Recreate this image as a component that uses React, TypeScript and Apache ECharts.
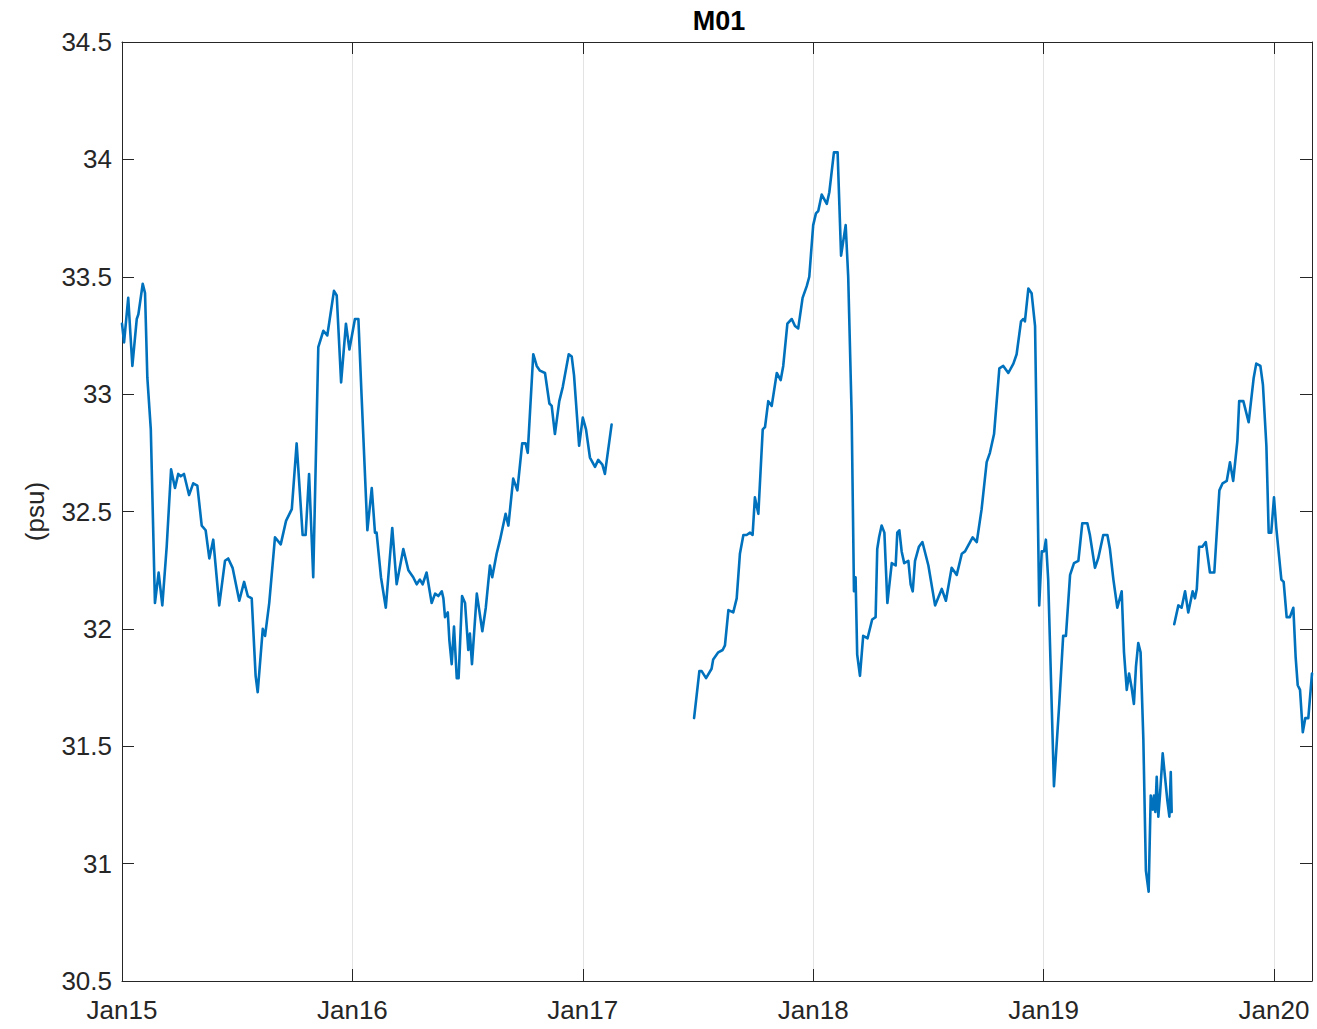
import React, { useEffect, useRef } from "react";
import * as echarts from "echarts";

// Salinity record at mooring M01, time in decimal years, salinity in psu.
// The record has two gaps, so it is kept as three segments.
const seg1Years = [
  2015.0, 2015.009, 2015.027, 2015.045, 2015.064, 2015.071, 2015.09, 2015.1, 2015.11, 2015.125,
  2015.143, 2015.159, 2015.175, 2015.194, 2015.213, 2015.23, 2015.244, 2015.255, 2015.269, 2015.291,
  2015.309, 2015.327, 2015.346, 2015.363, 2015.379, 2015.396, 2015.422, 2015.447, 2015.461, 2015.48,
  2015.509, 2015.53, 2015.546, 2015.563, 2015.58, 2015.589, 2015.611, 2015.621, 2015.639, 2015.664,
  2015.689, 2015.712, 2015.737, 2015.758, 2015.784, 2015.797, 2015.812, 2015.83, 2015.852, 2015.874,
  2015.891, 2015.92, 2015.932, 2015.951, 2015.972, 2015.987, 2016.011, 2016.026, 2016.04, 2016.065,
  2016.084, 2016.098, 2016.105, 2016.124, 2016.145, 2016.173, 2016.192, 2016.221, 2016.243, 2016.264,
  2016.279, 2016.293, 2016.305, 2016.322, 2016.344, 2016.359, 2016.373, 2016.388, 2016.395, 2016.402,
  2016.414, 2016.421, 2016.431, 2016.441, 2016.453, 2016.461, 2016.476, 2016.489, 2016.503, 2016.51,
  2016.519, 2016.54, 2016.564, 2016.579, 2016.597, 2016.607, 2016.626, 2016.641, 2016.665, 2016.677,
  2016.698, 2016.716, 2016.737, 2016.752, 2016.761, 2016.785, 2016.8, 2016.814, 2016.836, 2016.855,
  2016.865, 2016.879, 2016.898, 2016.913, 2016.939, 2016.952, 2016.962, 2016.984, 2017.0, 2017.014,
  2017.031, 2017.053, 2017.067, 2017.085, 2017.096, 2017.125,
];
const seg1Psu = [
  33.3, 33.22, 33.41, 33.12, 33.32, 33.34, 33.47, 33.43, 33.07, 32.85,
  32.11, 32.24, 32.1, 32.35, 32.68, 32.6, 32.66, 32.65, 32.66, 32.57,
  32.62, 32.61, 32.44, 32.42, 32.3, 32.38, 32.1, 32.29, 32.3, 32.26,
  32.12, 32.2, 32.14, 32.13, 31.8, 31.73, 32.0, 31.97, 32.11, 32.39,
  32.36, 32.46, 32.51, 32.79, 32.4, 32.4, 32.66, 32.22, 33.2, 33.27,
  33.25, 33.44, 33.42, 33.05, 33.3, 33.19, 33.32, 33.32, 32.99, 32.42,
  32.6, 32.41, 32.41, 32.22, 32.09, 32.43, 32.19, 32.34, 32.25, 32.22,
  32.19, 32.21, 32.19, 32.24, 32.11, 32.15, 32.14, 32.16, 32.13, 32.05,
  32.07, 31.95, 31.85, 32.01, 31.79, 31.79, 32.14, 32.11, 31.91, 31.98,
  31.85, 32.15, 31.99, 32.09, 32.27, 32.22, 32.32, 32.38, 32.49, 32.44,
  32.64, 32.59, 32.79, 32.79, 32.75, 33.17, 33.12, 33.1, 33.09, 32.96,
  32.95, 32.83, 32.97, 33.03, 33.17, 33.16, 33.08, 32.78, 32.9, 32.85,
  32.73, 32.69, 32.72, 32.7, 32.66, 32.87,
];

const seg2Years = [
  2017.483, 2017.506, 2017.516, 2017.535, 2017.559, 2017.566, 2017.588, 2017.607, 2017.617, 2017.632,
  2017.653, 2017.668, 2017.682, 2017.697, 2017.711, 2017.726, 2017.737, 2017.747, 2017.762, 2017.781,
  2017.791, 2017.805, 2017.82, 2017.842, 2017.859, 2017.87, 2017.888, 2017.907, 2017.921, 2017.935,
  2017.954, 2017.972, 2017.983, 2018.0, 2018.012, 2018.022, 2018.037, 2018.059, 2018.07, 2018.09,
  2018.106, 2018.121, 2018.141, 2018.152, 2018.167, 2018.177, 2018.184, 2018.191, 2018.203, 2018.217,
  2018.236, 2018.256, 2018.271, 2018.278, 2018.286, 2018.297, 2018.309, 2018.322, 2018.341, 2018.358,
  2018.365, 2018.374, 2018.384, 2018.395, 2018.413, 2018.423, 2018.432, 2018.442, 2018.459, 2018.474,
  2018.5, 2018.529, 2018.558, 2018.576, 2018.601, 2018.623, 2018.645, 2018.659, 2018.692, 2018.71,
  2018.731, 2018.753, 2018.767, 2018.785, 2018.808, 2018.825, 2018.847, 2018.869, 2018.883, 2018.902,
  2018.912, 2018.919, 2018.934, 2018.948, 2018.963, 2018.981, 2018.992, 2019.002, 2019.01, 2019.02,
  2019.045, 2019.068, 2019.085, 2019.097, 2019.115, 2019.132, 2019.151, 2019.168, 2019.19, 2019.201,
  2019.223, 2019.237, 2019.259, 2019.277, 2019.288, 2019.303, 2019.32, 2019.339, 2019.349, 2019.361,
  2019.371, 2019.382, 2019.392, 2019.401, 2019.411, 2019.421, 2019.433, 2019.444, 2019.456, 2019.465,
  2019.474, 2019.479, 2019.485, 2019.491, 2019.498, 2019.505, 2019.517, 2019.527, 2019.537, 2019.546,
  2019.552, 2019.556,
];
const seg2Psu = [
  31.62, 31.82, 31.82, 31.79, 31.83, 31.87, 31.9, 31.91, 31.93, 32.08,
  32.07, 32.13, 32.32, 32.4, 32.4, 32.41, 32.4, 32.56, 32.49, 32.85,
  32.86, 32.97, 32.95, 33.09, 33.06, 33.12, 33.3, 33.32, 33.29, 33.28,
  33.41, 33.46, 33.5, 33.72, 33.77, 33.78, 33.85, 33.81, 33.86, 34.03,
  34.03, 33.59, 33.72, 33.5, 32.91, 32.16, 32.22, 31.89, 31.8, 31.97,
  31.96, 32.04, 32.05, 32.34, 32.39, 32.44, 32.41, 32.11, 32.28, 32.27,
  32.41, 32.42, 32.33, 32.28, 32.29, 32.19, 32.16, 32.29, 32.35, 32.37,
  32.27, 32.1, 32.17, 32.12, 32.26, 32.23, 32.32, 32.33, 32.39, 32.37,
  32.51, 32.71, 32.75, 32.83, 33.11, 33.12, 33.09, 33.13, 33.17, 33.31,
  33.32, 33.31, 33.45, 33.43, 33.29, 32.1, 32.33, 32.33, 32.38, 32.21,
  31.33, 31.68, 31.97, 31.97, 32.23, 32.28, 32.29, 32.45, 32.45, 32.4,
  32.26, 32.3, 32.4, 32.4, 32.34, 32.21, 32.09, 32.16, 31.9, 31.74,
  31.81, 31.75, 31.68, 31.84, 31.94, 31.9, 31.53, 30.97, 30.88, 31.29,
  31.23, 31.29, 31.22, 31.37, 31.2, 31.29, 31.47, 31.37, 31.27, 31.2,
  31.39, 31.22,
];

const seg3Years = [
  2019.567, 2019.585, 2019.599, 2019.614, 2019.628, 2019.647, 2019.657, 2019.665, 2019.675, 2019.689,
  2019.704, 2019.722, 2019.741, 2019.763, 2019.777, 2019.795, 2019.809, 2019.823, 2019.841, 2019.849,
  2019.867, 2019.89, 2019.912, 2019.923, 2019.941, 2019.952, 2019.967, 2019.977, 2019.988, 2020.0,
  2020.01, 2020.022, 2020.032, 2020.042, 2020.055, 2020.069, 2020.084, 2020.094, 2020.103, 2020.113,
  2020.125, 2020.136, 2020.149, 2020.165,
];
const seg3Psu = [
  32.02, 32.1, 32.09, 32.16, 32.07, 32.16, 32.13, 32.17, 32.35, 32.35,
  32.37, 32.24, 32.24, 32.59, 32.62, 32.63, 32.71, 32.63, 32.8, 32.97,
  32.97, 32.88, 33.07, 33.13, 33.12, 33.04, 32.78, 32.41, 32.41, 32.56,
  32.43, 32.31, 32.21, 32.2, 32.05, 32.05, 32.09, 31.88, 31.76, 31.74,
  31.56, 31.62, 31.62, 31.81,
];

const segments = [
  { years: seg1Years, psu: seg1Psu },
  { years: seg2Years, psu: seg2Psu },
  { years: seg3Years, psu: seg3Psu },
];

const yearMin = 2015;
const yearMax = 2020.165;
const psuMin = 30.5;
const psuMax = 34.5;

const FONT = "'Liberation Sans', Arial, Helvetica, sans-serif";
const INK = "#262626";
const LINE_BLUE = "#0072BD";

function yearLabel(v: number): string {
  if (Math.abs(v - Math.round(v)) > 1e-6) return "";
  const yy = Math.round(v) % 100;
  return "Jan" + String(yy).padStart(2, "0");
}

export default function App() {
  const ref = useRef<HTMLDivElement>(null);

  useEffect(() => {
    if (!ref.current) return;
    const chart = echarts.init(ref.current, undefined, { renderer: "svg" });

    const tickStyle = { show: true, inside: true, length: 12, lineStyle: { color: INK, width: 1 } };
    const lineStyle = { show: true, lineStyle: { color: INK, width: 1 } };

    chart.setOption({
      animation: false,
      backgroundColor: "#ffffff",
      title: {
        text: "M01",
        left: 714,
        top: 2,
        textAlign: "center",
        textStyle: { fontFamily: FONT, fontSize: 27, fontWeight: "bold", color: "#000000" },
      },
      grid: { left: 122, right: 5, top: 42, bottom: 48, containLabel: false },
      xAxis: [
        {
          type: "value",
          position: "bottom",
          min: yearMin,
          max: yearMax,
          interval: 1,
          axisLine: lineStyle,
          axisTick: tickStyle,
          axisLabel: {
            show: true,
            showMaxLabel: false,
            margin: 16,
            fontFamily: FONT,
            fontSize: 26,
            color: INK,
            formatter: yearLabel,
          },
          splitLine: { show: true, lineStyle: { color: "#e3e3e3", width: 1 } },
        },
        {
          type: "value",
          position: "top",
          min: yearMin,
          max: yearMax,
          interval: 1,
          axisLine: lineStyle,
          axisTick: tickStyle,
          axisLabel: { show: false },
          splitLine: { show: false },
        },
      ],
      yAxis: [
        {
          type: "value",
          position: "left",
          min: psuMin,
          max: psuMax,
          interval: 0.5,
          name: "(psu)",
          nameLocation: "middle",
          nameGap: 74,
          nameTextStyle: { fontFamily: FONT, fontSize: 26, color: INK },
          axisLine: lineStyle,
          axisTick: tickStyle,
          axisLabel: { show: true, margin: 10, fontFamily: FONT, fontSize: 26, color: INK },
          splitLine: { show: false },
        },
        {
          type: "value",
          position: "right",
          min: psuMin,
          max: psuMax,
          interval: 0.5,
          axisLine: lineStyle,
          axisTick: tickStyle,
          axisLabel: { show: false },
          splitLine: { show: false },
        },
      ],
      series: segments.map((seg, i) => ({
        type: "line",
        name: "M01-" + (i + 1),
        xAxisIndex: 0,
        yAxisIndex: 0,
        data: seg.years.map((t, k) => [t, seg.psu[k]]),
        showSymbol: false,
        symbol: "none",
        lineStyle: { color: LINE_BLUE, width: 2.6, join: "round", cap: "round" },
        itemStyle: { color: LINE_BLUE },
        z: 3,
      })),
    });

    return () => chart.dispose();
  }, []);

  return (
    <div
      ref={ref}
      style={{ position: "absolute", left: 0, top: 0, width: 1317, height: 1029, background: "#fff" }}
    />
  );
}
